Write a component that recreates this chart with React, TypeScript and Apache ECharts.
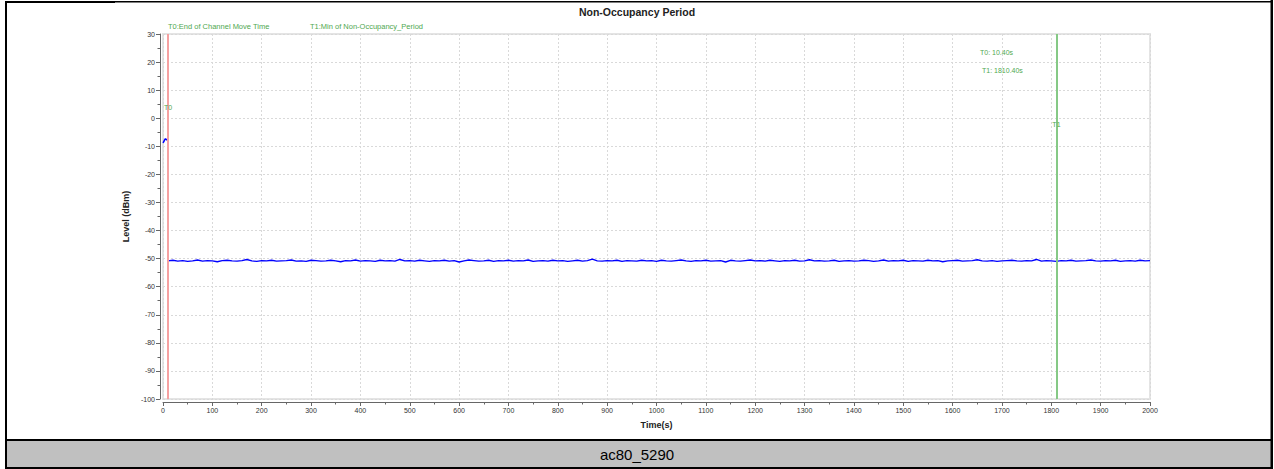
import React, { useEffect, useRef } from "react";
import * as echarts from "echarts";

const chartTitle = "Non-Occupancy Period";
const caption = "ac80_5290";
const xAxisName = "Time(s)";
const yAxisName = "Level (dBm)";
const yMin = -100;
const yMax = 30;
const yStep = 10;
const xMin = 0;
const xMax = 2000;
const xStep = 100;

const markerNames = ["T0", "T1"];
const markerTimes = [10.4, 1810.4];
const markerLabelLevels = [4, -2.4];
const markerColors = ["#f6a1a1", "#86c986"];
const legendTexts = ["T0:End of Channel Move Time", "T1:Min of Non-Occupancy_Period"];
const readoutTexts = ["T0: 10.40s", "T1: 1810.40s"];

// short segment before T0
const startTimes = [0, 1, 2, 3, 4, 5, 6, 7, 8];
const startLevels = [-8.8, -8.5, -8.2, -7.8, -7.5, -7.3, -7.4, -7.6, -7.8];

// noise floor after T0, one reading every 10 s from 10 s to 2000 s
const noiseStart = 10;
const noiseStep = 10;
const noiseLevels = [
  -50.8, -50.6, -50.9, -50.7, -51.0, -50.8, -50.5, -50.9, -50.7, -50.8,
  -51.1, -50.7, -50.6, -50.8, -50.9, -50.7, -50.3, -50.8, -51.0, -50.7,
  -50.8, -50.6, -50.9, -50.8, -50.7, -50.5, -50.9, -50.8, -51.0, -50.6,
  -50.7, -50.9, -50.8, -50.6, -50.8, -51.1, -50.7, -50.8, -50.5, -50.9,
  -50.7, -50.8, -51.0, -50.6, -50.8, -50.7, -50.9, -50.3, -50.8, -50.7,
  -50.9, -50.6, -50.8, -51.0, -50.7, -50.8, -50.6, -50.9, -50.7, -51.2,
  -50.8, -50.5, -50.7, -50.9, -50.8, -50.6, -51.0, -50.7, -50.8, -50.6,
  -50.9, -50.7, -50.8, -50.5, -51.0, -50.8, -50.7, -50.9, -50.6, -50.8,
  -50.7, -51.0, -50.8, -50.6, -50.9, -50.7, -50.2, -50.8, -50.9, -50.7,
  -50.8, -50.6, -51.0, -50.7, -50.8, -50.9, -50.6, -50.8, -50.7, -51.0,
  -50.6, -50.8, -50.9, -50.7, -50.5, -50.8, -51.0, -50.7, -50.8, -50.6,
  -50.9, -50.8, -50.7, -51.2, -50.6, -50.8, -50.9, -50.7, -50.5, -50.8,
  -50.7, -50.9, -50.6, -50.8, -51.0, -50.7, -50.8, -50.6, -50.9, -50.8,
  -50.4, -50.8, -50.7, -50.9, -50.8, -50.6, -51.0, -50.8, -50.7, -50.9,
  -50.8, -50.6, -50.7, -51.0, -50.8, -50.5, -50.9, -50.7, -50.8, -50.6,
  -51.0, -50.7, -50.8, -50.9, -50.6, -50.8, -50.7, -51.1, -50.8, -50.7,
  -50.6, -50.9, -50.8, -50.7, -50.4, -50.8, -50.9, -50.7, -51.0, -50.8,
  -50.7, -50.6, -50.8, -50.9, -50.7, -50.8, -50.3, -50.9, -50.7, -50.8,
  -51.0, -50.7, -50.8, -50.6, -50.9, -50.8, -50.7, -50.5, -50.8, -50.9,
  -50.7, -50.8, -50.6, -51.0, -50.8, -50.7, -50.9, -50.6, -50.8, -50.7,
];

const FONT = "Liberation Sans, Arial, sans-serif";
const GREEN_TEXT = "#4fa84f";

export default function App() {
  const ref = useRef<HTMLDivElement>(null);

  useEffect(() => {
    if (!ref.current) return;
    const chart = echarts.init(ref.current, undefined, { renderer: "svg" });

    const axisCommon = {
      type: "value" as const,
      offset: 3,
      nameLocation: "middle" as const,
      nameTextStyle: { fontFamily: FONT, fontWeight: "bold" as const, fontSize: 9, color: "#222" },
      axisLine: { show: true, onZero: false, lineStyle: { color: "#666", width: 1 } },
      axisTick: { show: true, length: 4, lineStyle: { color: "#666" } },
      minorTick: { show: true, splitNumber: 2, length: 2.5, lineStyle: { color: "#666" } },
      splitLine: { show: true, lineStyle: { color: "#d9d9d9", type: [2, 2] as any, width: 1 } },
      axisLabel: {
        fontFamily: FONT,
        fontSize: 7,
        color: "#333",
        margin: 5,
        formatter: (v: number) => String(v),
      },
    };

    const option: any = {
      animation: false,
      backgroundColor: "#ffffff",
      title: {
        text: chartTitle,
        left: "center",
        top: 1,
        textStyle: { fontFamily: FONT, fontWeight: "bold", fontSize: 10.5, color: "#222" },
      },
      grid: {
        left: 163,
        right: 124,
        top: 34,
        bottom: 70,
        show: true,
        borderColor: "#e4e4e4",
        borderWidth: 2,
        backgroundColor: "#ffffff",
      },
      xAxis: {
        ...axisCommon,
        min: xMin,
        max: xMax,
        interval: xStep,
        name: xAxisName,
        nameGap: 18,
      },
      yAxis: {
        ...axisCommon,
        min: yMin,
        max: yMax,
        interval: yStep,
        name: yAxisName,
        nameGap: 30,
      },
      series: [
        {
          type: "line",
          data: startTimes.map((t, i) => [t, startLevels[i]]),
          symbol: "none",
          lineStyle: { color: "#0000ff", width: 1.5 },
          z: 3,
        },
        {
          type: "line",
          data: noiseLevels.map((v, i) => [noiseStart + i * noiseStep, v]),
          symbol: "none",
          lineStyle: { color: "#0000ff", width: 1.4 },
          z: 3,
          markLine: {
            silent: true,
            symbol: ["none", "none"],
            label: { show: false },
            data: markerTimes.map((t, i) => ({
              xAxis: t,
              lineStyle: { color: markerColors[i], width: 2, type: "solid" },
            })),
          },
          markPoint: {
            silent: true,
            symbol: "circle",
            symbolSize: 1,
            itemStyle: { color: "transparent" },
            data: markerTimes.map((t, i) => ({
              coord: [t, markerLabelLevels[i]],
              label: {
                show: true,
                formatter: markerNames[i],
                position: "inside",
                color: GREEN_TEXT,
                fontFamily: FONT,
                fontSize: 7,
              },
            })),
          },
        },
      ],
      graphic: [
        // outer frame
        { type: "rect", shape: { x: 5, y: 1, width: 1268, height: 1.5 }, style: { fill: "#000" }, z: 100 },
        { type: "rect", shape: { x: 5, y: 1, width: 110, height: 2 }, style: { fill: "#000" }, z: 100 },
        { type: "rect", shape: { x: 5, y: 1, width: 2, height: 468 }, style: { fill: "#000" }, z: 100 },
        { type: "rect", shape: { x: 1270.5, y: 0, width: 2.5, height: 469 }, style: { fill: "#000" }, z: 100 },
        { type: "rect", shape: { x: 5, y: 441, width: 1267, height: 26 }, style: { fill: "#c0c0c0" }, z: 99 },
        { type: "rect", shape: { x: 5, y: 439, width: 1268, height: 2 }, style: { fill: "#000" }, z: 100 },
        { type: "rect", shape: { x: 5, y: 467, width: 1268, height: 2 }, style: { fill: "#000" }, z: 100 },
        {
          type: "text",
          x: 637,
          y: 454,
          z: 101,
          style: {
            text: caption,
            fontFamily: FONT,
            fontSize: 15,
            fill: "#000",
            align: "center",
            verticalAlign: "middle",
          },
        },
        // annotations
        {
          type: "text",
          x: 168,
          y: 26,
          z: 50,
          style: { text: legendTexts[0], fontFamily: FONT, fontSize: 7.5, fill: GREEN_TEXT, verticalAlign: "middle" },
        },
        {
          type: "text",
          x: 310,
          y: 26,
          z: 50,
          style: { text: legendTexts[1], fontFamily: FONT, fontSize: 7.5, fill: GREEN_TEXT, verticalAlign: "middle" },
        },
        {
          type: "text",
          x: 980,
          y: 52,
          z: 50,
          style: { text: readoutTexts[0], fontFamily: FONT, fontSize: 7, fill: GREEN_TEXT, verticalAlign: "middle" },
        },
        {
          type: "text",
          x: 982,
          y: 70,
          z: 50,
          style: { text: readoutTexts[1], fontFamily: FONT, fontSize: 7, fill: GREEN_TEXT, verticalAlign: "middle" },
        },
      ],
    };

    chart.setOption(option);
    return () => chart.dispose();
  }, []);

  return (
    <div
      ref={ref}
      style={{ position: "absolute", left: 0, top: 0, width: 1274, height: 469 }}
    />
  );
}
